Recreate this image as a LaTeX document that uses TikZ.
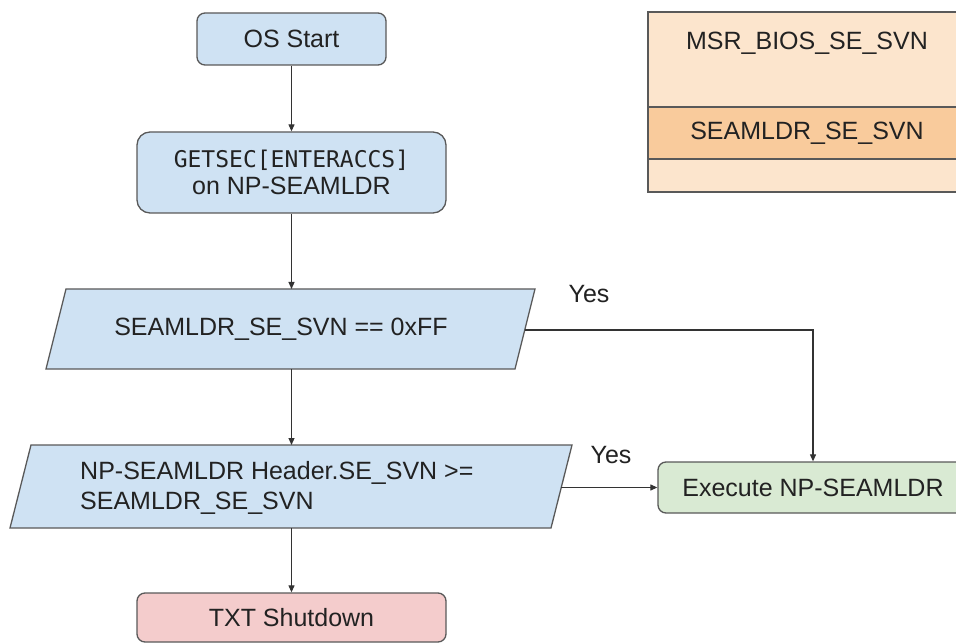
\documentclass[tikz,border=0pt]{standalone}
\usepackage{fontspec}
\setmainfont{Liberation Sans}
\newfontfamily\monof{DejaVu Sans Mono}
\usetikzlibrary{arrows.meta}
\definecolor{bluef}{HTML}{CFE2F3}
\definecolor{greenf}{HTML}{D9EAD3}
\definecolor{redf}{HTML}{F4CCCC}
\definecolor{orl}{HTML}{FCE5CD}
\definecolor{ord}{HTML}{F9CB9C}
\definecolor{bord}{HTML}{595959}
\definecolor{linec}{HTML}{333333}
\definecolor{txtc}{HTML}{222222}
\begin{document}
\begin{tikzpicture}[x=1pt,y=-1pt,
  box/.style={draw=bord, line width=1.3pt, rounded corners=8pt, inner sep=0pt,
    font=\fontsize{25}{27}\selectfont, text=txtc, align=center},
  para/.style={draw=bord, line width=1.3pt, fill=bluef},
  conn/.style={draw=linec, line width=1.1pt, -{Triangle[length=7pt,width=6pt]}},
  plain/.style={draw=linec, line width=1.1pt},
  lbl/.style={font=\fontsize{25}{30}\selectfont, inner sep=0pt, text=txtc, align=left},
  tbl/.style={draw=bord, line width=1.3pt}]
\useasboundingbox (0,0) rectangle (956,644);
\clip (0,0) rectangle (956,644);

% register table
\fill[orl] (648,12) rectangle (970,192);
\fill[ord] (648,107) rectangle (970,159);
\draw[tbl] (970,12) -- (648,12) -- (648,192) -- (970,192);
\draw[tbl] (648,107) -- (970,107);
\draw[tbl] (648,159) -- (970,159);
\node[lbl] (msr) at (807,43) {MSR\_BIOS\_SE\_SVN};
\node[lbl] (sesvn) at (807,133) {SEAMLDR\_SE\_SVN};

% boxes
\node[box, fill=bluef, minimum width=189pt, minimum height=52pt] (os) at (291.5,39) {OS Start};
\node[box, fill=bluef, rounded corners=13pt, minimum width=309pt, minimum height=81pt] (get) at (291.5,172.5)
  {{\monof\fontsize{23}{26}\selectfont GETSEC[ENTERACCS]}\\on NP-SEAMLDR};
\node[box, fill=redf, minimum width=309pt, minimum height=49pt] (txt) at (291.5,617.5) {TXT Shutdown};
\node[box, fill=greenf, minimum width=310pt, minimum height=51pt] (exe) at (813,487.5) {Execute NP-SEAMLDR};

% decision 1
\draw[para] (66,289) -- (535,289) -- (515,369) -- (46,369) -- cycle;
\coordinate (p1t) at (291.5,289);
\coordinate (p1b) at (291.5,369);
\coordinate (p1r) at (524.75,330);
\node[lbl] (p1) at (281,329) {SEAMLDR\_SE\_SVN == 0xFF};

% decision 2
\draw[para] (31,445) -- (572,445) -- (551,528) -- (10,528) -- cycle;
\coordinate (p2t) at (291.5,445);
\coordinate (p2b) at (291.5,528);
\coordinate (p2r) at (561.4,487.5);
\node[lbl, anchor=west] (p2) at (80,487.5) {NP-SEAMLDR Header.SE\_SVN >=\\SEAMLDR\_SE\_SVN};

% connectors
\draw[conn] (os.south) -- (get.north);
\draw[conn] (get.south) -- (p1t);
\draw[conn] (p1b) -- (p2t);
\draw[conn] (p2b) -- (txt.north);
\draw[conn] (p1r) -| (exe.north);
\draw[conn] (p2r) -- (exe.west);

% labels
\node[lbl] (yes1) at (589,294) {Yes};
\node[lbl] (yes2) at (611,455) {Yes};
\end{tikzpicture}
\end{document}
